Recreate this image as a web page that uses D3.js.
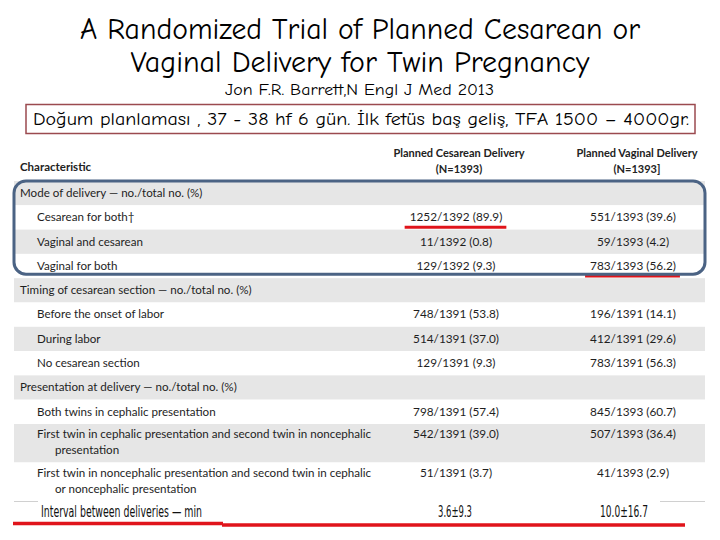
<!DOCTYPE html>
<html><head><meta charset="utf-8">
<script src="https://cdn.jsdelivr.net/npm/d3@7"></script>
<style>html,body{margin:0;padding:0;background:#fff;}svg{display:block;}</style>
</head><body>
<script>
// ---------- data ----------
const titleLines = ["A Randomized Trial of Planned Cesarean or", "Vaginal Delivery for Twin Pregnancy"];
const subtitle = "Jon F.R. Barrett,N Engl J Med 2013";
const boxNote = "Doğum planlaması , 37 -  38 hf 6 gün.  İlk fetüs baş geliş, TFA 1500 – 4000gr.";
const headerLabel = "Characteristic";
const groupNames = [["Planned Cesarean Delivery", "(N=1393)"], ["Planned Vaginal Delivery", "(N=1393]"]];
const rowLabels = [
  ["Mode of delivery — no./total no. (%)"],
  ["Cesarean for both†"],
  ["Vaginal and cesarean"],
  ["Vaginal for both"],
  ["Timing of cesarean section — no./total no. (%)"],
  ["Before the onset of labor"],
  ["During labor"],
  ["No cesarean section"],
  ["Presentation at delivery — no./total no. (%)"],
  ["Both twins in cephalic presentation"],
  ["First twin in cephalic presentation and second twin in noncephalic", "presentation"],
  ["First twin in noncephalic presentation and second twin in cephalic", "or noncephalic presentation"]
];
const rowLevels = [0, 1, 1, 1, 0, 1, 1, 1, 0, 1, 1, 1];
const cesareanValues = ["", "1252/1392 (89.9)", "11/1392 (0.8)", "129/1392 (9.3)", "", "748/1391 (53.8)", "514/1391 (37.0)", "129/1391 (9.3)", "", "798/1391 (57.4)", "542/1391 (39.0)", "51/1391 (3.7)"];
const vaginalValues = ["", "551/1393 (39.6)", "59/1393 (4.2)", "783/1393 (56.2)", "", "196/1391 (14.1)", "412/1391 (29.6)", "783/1391 (56.3)", "", "845/1393 (60.7)", "507/1393 (36.4)", "41/1393 (2.9)"];
const intervalLabel = "Interval between deliveries — min";
const intervalValues = ["3.6±9.3", "10.0±16.7"];
const highlightCells = [[1, 0], [3, 1]]; // [row, column] underlined in red
const boxedRows = [0, 3];                 // first/last row inside blue frame

// ---------- layout ----------
const W = 720, H = 540;
const svg = d3.select("body").append("svg").attr("width", W).attr("height", H);
const titleFont = "'Comic Sans MS','Comic Neue','DejaVu Sans',sans-serif";
const tableFont = "Lato,'Open Sans',sans-serif";

function squeeze(sel, target) {
  const w = sel.node().getComputedTextLength();
  if (w > target) sel.attr("textLength", target).attr("lengthAdjust", "spacingAndGlyphs");
  return sel;
}
function stretch(sel, target) {
  sel.attr("textLength", target).attr("lengthAdjust", "spacingAndGlyphs");
  return sel;
}

// Title
squeeze(svg.append("text").attr("x", 360).attr("y", 39).attr("text-anchor", "middle")
  .attr("font-family", titleFont).attr("font-size", 30).attr("fill", "#000").text(titleLines[0]), 560);
squeeze(svg.append("text").attr("x", 360).attr("y", 72).attr("text-anchor", "middle")
  .attr("font-family", titleFont).attr("font-size", 30).attr("fill", "#000").text(titleLines[1]), 465);
stretch(svg.append("text").attr("x", 359.5).attr("y", 94.5).attr("text-anchor", "middle")
  .attr("font-family", titleFont).attr("font-size", 15.5).attr("fill", "#000").text(subtitle), 269);

// Boxed note
svg.append("rect").attr("x", 26).attr("y", 104.5).attr("width", 669).attr("height", 29)
  .attr("fill", "#fff").attr("stroke", "#9b4a4f").attr("stroke-width", 1.5);
stretch(svg.append("text").attr("x", 361).attr("y", 125).attr("text-anchor", "middle")
  .attr("font-family", titleFont).attr("font-size", 18.5).attr("fill", "#000").text(boxNote), 656);

// Row scale (units: one text line = 1, wrapped rows a bit more)
const rowUnits = rowLabels.map(l => 1 + (l.length - 1) * 0.585);
const cum = [0];
rowUnits.forEach((u, i) => cum.push(cum[i] + u));
const y = d3.scaleLinear().domain([0, cum[cum.length - 1]]).range([181, 501]);
const x = d3.scaleOrdinal().domain(["label0", "label1", "cont", "ces", "vag"]).range([20, 37, 55, 456, 633]);
const tableLeft = 14, tableRight = 705;
const fsTable = 11.6;

// Header
svg.append("text").attr("x", x("label0")).attr("y", 171).attr("font-family", tableFont)
  .attr("font-weight", 700).attr("font-size", 11.5).attr("fill", "#222").text(headerLabel);
groupNames.forEach((g, i) => {
  const cx = i === 0 ? 459 : 637;
  g.forEach((t, j) => {
    svg.append("text").attr("x", cx).attr("y", 157 + j * 16).attr("text-anchor", "middle")
      .attr("font-family", tableFont).attr("font-weight", 700).attr("font-size", 11)
      .attr("fill", "#222").text(t);
  });
});

// Rows
const rows = svg.append("g").selectAll("g").data(rowLabels).join("g");
rows.append("rect")
  .attr("x", tableLeft).attr("width", tableRight - tableLeft)
  .attr("y", (d, i) => y(cum[i])).attr("height", (d, i) => y(cum[i + 1]) - y(cum[i]))
  .attr("fill", (d, i) => i % 2 === 0 ? "#e6e6e6" : "#ffffff");
rows.each(function (lines, i) {
  const g = d3.select(this);
  const top = y(cum[i]);
  lines.forEach((t, j) => {
    g.append("text")
      .attr("x", j === 0 ? (rowLevels[i] === 0 ? x("label0") : x("label1")) : x("cont"))
      .attr("y", top + 16 + j * 16 - (lines.length - 1) * 1.5)
      .attr("font-family", tableFont).attr("font-size", fsTable).attr("fill", "#1e1e1e").text(t);
  });
  [[cesareanValues[i], "ces"], [vaginalValues[i], "vag"]].forEach(([v, k], c) => {
    if (!v) return;
    const tx = g.append("text").attr("class", "val" + c)
      .attr("x", x(k)).attr("y", top + 16 - (lines.length - 1) * 1.5).attr("text-anchor", "middle")
      .attr("font-family", tableFont).attr("font-size", 11.8).attr("fill", "#1e1e1e").text(v);
    if (highlightCells.some(h => h[0] === i && h[1] === c)) {
      const w = tx.node().getComputedTextLength();
      g.append("line").attr("x1", x(k) - w / 2 - 5).attr("x2", x(k) + w / 2 + 4)
        .attr("y1", top + 22).attr("y2", top + 22)
        .attr("stroke", "#e0141b").attr("stroke-width", 3);
    }
  });
});

// Interval row
const iTop = y(cum[cum.length - 1]);
svg.append("line").attr("x1", tableLeft).attr("x2", 38).attr("y1", iTop + 0.5).attr("y2", iTop + 0.5)
  .attr("stroke", "#d0d0d0").attr("stroke-width", 1);
svg.append("line").attr("x1", 660).attr("x2", tableRight).attr("y1", iTop + 0.5).attr("y2", iTop + 0.5)
  .attr("stroke", "#d0d0d0").attr("stroke-width", 1);
const narrow = "'Liberation Sans Narrow','Arial Narrow','DejaVu Sans Condensed',sans-serif";
squeeze(svg.append("text").attr("x", 41).attr("y", iTop + 16).attr("font-family", narrow)
  .attr("font-size", 15).attr("fill", "#111").text(intervalLabel), 161);
intervalValues.forEach((v, i) => {
  squeeze(svg.append("text").attr("x", i === 0 ? 455 : 624).attr("y", iTop + 16).attr("text-anchor", "middle")
    .attr("font-family", narrow).attr("font-size", 15).attr("fill", "#111").text(v), i === 0 ? 34 : 48);
});
// bottom red line (two slightly offset strokes)
svg.append("line").attr("x1", 13).attr("x2", 223).attr("y1", iTop + 22.5).attr("y2", iTop + 22.5)
  .attr("stroke", "#e0141b").attr("stroke-width", 3.5);
svg.append("line").attr("x1", 222).attr("x2", 685).attr("y1", iTop + 24).attr("y2", iTop + 24)
  .attr("stroke", "#e0141b").attr("stroke-width", 3.5);

// Blue rounded frame around mode-of-delivery block
svg.append("rect").attr("x", tableLeft).attr("y", y(cum[boxedRows[0]]))
  .attr("width", tableRight - tableLeft)
  .attr("height", y(cum[boxedRows[1] + 1]) - 4 - y(cum[boxedRows[0]]))
  .attr("rx", 12).attr("ry", 12).attr("fill", "none")
  .attr("stroke", "#4b6384").attr("stroke-width", 3);
</script>
</body></html>
